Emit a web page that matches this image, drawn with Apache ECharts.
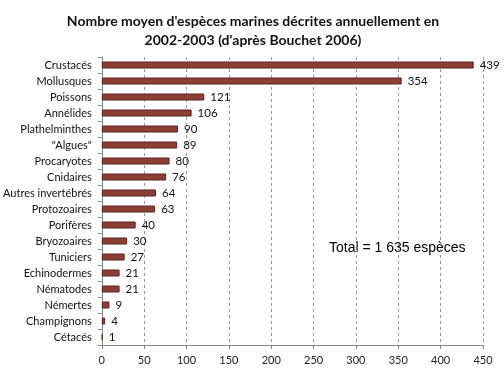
<!DOCTYPE html>
<html><head><meta charset="utf-8">
<script src="https://cdn.jsdelivr.net/npm/echarts@6/dist/echarts.min.js"></script>
<style>html,body{margin:0;padding:0;background:#fff}#c{width:504px;height:378px}</style>
</head><body><div id="c"></div>
<script>
const categories = ["Crustacés","Mollusques","Poissons","Annélides","Plathelminthes","\"Algues\"","Procaryotes","Cnidaires","Autres invertébrés","Protozoaires","Porifères","Bryozoaires","Tuniciers","Echinodermes","Nématodes","Némertes","Champignons","Cétacés"];
const values = [439,354,121,106,90,89,80,76,64,63,40,30,27,21,21,9,4,1];
const titleText = "Nombre moyen d'espèces marines décrites annuellement en\n2002-2003 (d'après Bouchet 2006)";
const totalText = "Total = 1 635 espèces";
const font = "Lato, 'Open Sans', sans-serif";
const chart = echarts.init(document.getElementById('c'));
chart.setOption({
  animation:false,
  title:{text:titleText,left:248,textAlign:'center',top:7,textStyle:{fontFamily:font,fontSize:14,fontWeight:'bold',color:'#111',lineHeight:19}},
  graphic:[{type:'text',left:329,top:241,style:{text:totalText,fontFamily:"'Liberation Sans', Arial, sans-serif",fontSize:14,fill:'#000'}}],
  grid:{left:100,right:21,top:57,bottom:33,containLabel:false},
  xAxis:{type:'value',min:0,max:450,interval:50,
    axisLine:{show:true,lineStyle:{color:'#888'}},
    axisTick:{show:true,length:4,lineStyle:{color:'#888'}},
    axisLabel:{fontFamily:font,fontSize:11,color:'#222',margin:10},
    splitLine:{show:true,lineStyle:{type:[3,3],color:'#999'}}},
  yAxis:{type:'category',data:categories,inverse:true,
    axisLine:{show:true,lineStyle:{color:'#888'}},
    axisTick:{show:true,length:4,lineStyle:{color:'#888'}},
    axisLabel:{fontFamily:font,fontSize:11,color:'#111',margin:10}},
  series:[{type:'bar',data:values,barWidth:7,
    itemStyle:{color:'#8a3f37',borderColor:'#5c2520',borderWidth:1},
    label:{show:true,position:'right',distance:6,fontFamily:font,fontSize:11.5,color:'#111'}}]
});
</script></body></html>
